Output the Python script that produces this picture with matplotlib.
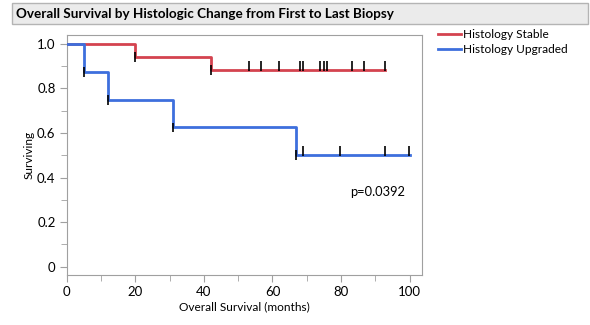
from matplotlib import pyplot as plt
from matplotlib.patches import Rectangle
import numpy as np

# Kaplan-Meier steps (months, surviving)
stable_t = [0, 20, 42, 92.9]
stable_s = [1.0, 0.941, 0.882, 0.882]
upgraded_t = [0, 5, 12, 31, 67, 100]
upgraded_s = [1.0, 0.875, 0.75, 0.625, 0.5, 0.5]

# censor marks
stable_cens = [53.1, 56.8, 62.0, 67.9, 69.0, 74.0, 74.9, 76.0, 83.1, 86.8, 92.9]
upgraded_cens = [69.0, 79.8, 92.9, 99.9]
# marks sitting on the drop points
stable_drop = [20, 42]
upgraded_drop = [5, 12, 31, 67]

red = '#D4434F'
blue = '#3D6FDD'
grey = '#A0A0A0'

plt.rcParams['font.family'] = ['Lato', 'DejaVu Sans']

fig = plt.figure(figsize=(5.9, 3.25), dpi=100)
W, H = 590, 325
ax = fig.add_axes([66.7 / W, 1 - 275 / H, (422 - 66.7) / W, (275 - 35) / H])

# title bar
fig.patches.append(Rectangle((12 / W, 1 - 23.5 / H), 576 / W, 20.5 / H,
                             transform=fig.transFigure, facecolor='#EBEBEB',
                             edgecolor='#B4B4B4', lw=1))
fig.text(16 / W, 1 - 13.5 / H, 'Overall Survival by Histologic Change from First to Last Biopsy',
         fontsize=9.75, fontweight='bold', va='center', ha='left')


def km(t, s, color, label):
    ax.step(t, s, where='post', color=color, lw=2, label=label, zorder=3)


km(stable_t, stable_s, red, 'Histology Stable')
km(upgraded_t, upgraded_s, blue, 'Histology Upgraded')


def level(t_steps, s_steps, x):
    i = np.searchsorted(t_steps, x, side='right') - 1
    return s_steps[i]


up = 0.042
half = 0.022
for x in stable_cens:
    y = level(stable_t, stable_s, x)
    ax.vlines(x, y - 0.004, y + up, color='black', lw=1.2, zorder=4)
for x in upgraded_cens:
    y = level(upgraded_t, upgraded_s, x)
    ax.vlines(x, y - 0.004, y + up, color='black', lw=1.2, zorder=4)
for x in stable_drop:
    y = level(stable_t, stable_s, x)
    ax.vlines(x, y - half, y + half, color='black', lw=1.2, zorder=4)
for x in upgraded_drop:
    y = level(upgraded_t, upgraded_s, x)
    ax.vlines(x, y - half, y + half, color='black', lw=1.2, zorder=4)

ax.set_xlim(0, 103.6)
ax.set_ylim(-0.037, 1.04)
ax.set_xticks([0, 20, 40, 60, 80, 100])
ax.set_xticks(np.arange(10, 101, 20), minor=True)
ax.set_yticks([0, 0.2, 0.4, 0.6, 0.8, 1.0])
ax.set_yticklabels(['0', '0.2', '0.4', '0.6', '0.8', '1.0'])
ax.set_yticks(np.arange(0.1, 1.0, 0.2), minor=True)
ax.tick_params(which='major', length=5, color=grey, labelsize=9.5, pad=3)
ax.tick_params(which='minor', length=4, color=grey)
for sp in ax.spines.values():
    sp.set_color(grey)

ax.set_xlabel('Overall Survival (months)', fontsize=8.6, labelpad=2.5)
ax.set_ylabel('Surviving', fontsize=8.6, labelpad=2)

ax.text(0.797, 0.346, 'p=0.0392', transform=ax.transAxes, fontsize=9.3, ha='left', va='center')

fig.legend(loc='upper left', bbox_to_anchor=(438 / W, 1 - 29 / H), frameon=False,
           fontsize=8.6, handlelength=1.9, handletextpad=0.2, labelspacing=0.35,
           borderaxespad=0, borderpad=0)

fig.savefig('out.png', dpi=100)
